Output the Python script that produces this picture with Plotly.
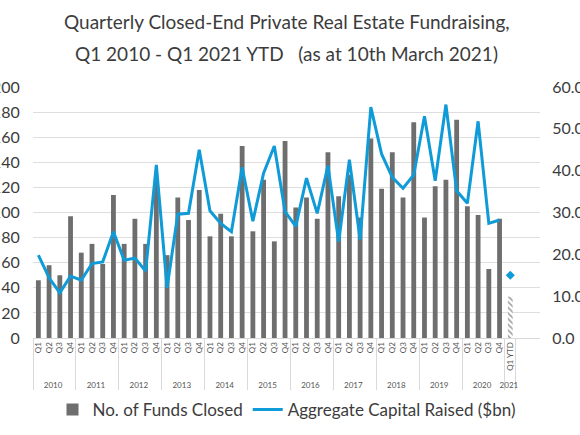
import plotly.graph_objects as go

# Quarterly fundraising data, Q1 2010 - Q4 2020, plus Q1 2021 YTD
years = [str(y) for y in range(2010, 2021)]
quarters = ["Q1", "Q2", "Q3", "Q4"]

funds_closed = [
    46, 58, 50, 97,
    68, 75, 59, 114,
    75, 95, 75, 125,
    66, 112, 94, 118,
    81, 99, 81, 153,
    85, 126, 77, 157,
    104, 112, 95, 148,
    113, 130, 96, 159,
    119, 148, 112, 172,
    96, 121, 126, 174,
    105, 98, 55, 95,
]
capital_raised = [
    19.8, 14.4, 10.8, 14.8,
    13.8, 17.8, 18.2, 25.4,
    18.6, 19.1, 16.0, 41.4,
    12.0, 29.6, 29.8, 45.0,
    30.4, 27.4, 25.4, 40.8,
    27.9, 39.4, 45.9, 30.2,
    26.7, 38.2, 29.8, 41.2,
    23.0, 42.6, 23.5, 55.2,
    44.0, 38.4, 35.8, 39.0,
    53.0, 37.6, 55.8, 35.2,
    32.2, 51.8, 27.4, 28.2,
]
ytd_year = "2021"
ytd_label = "Q1 YTD"
ytd_funds = 33
ytd_capital = 15.0

title_lines = [
    "Quarterly Closed-End Private Real Estate Fundraising,",
    "Q1 2010 - Q1 2021 YTD   (as at 10th March 2021)",
]

GREY = "#6e6e6e"
BLUE = "#0f9bd7"
TEXT = "#3c3c3c"

x_years = [y for y in years for _ in quarters] + [ytd_year]
x_quarters = quarters * len(years) + [ytd_label]
x = [x_years, x_quarters]

n = len(funds_closed)
bar_y = funds_closed + [ytd_funds]
bar_colors = [GREY] * n + ["white"]   # YTD bar is hatched only
patterns = [""] * n + ["\\"]

fig = go.Figure()
fig.add_trace(go.Bar(
    x=x, y=bar_y, name="No. of Funds Closed",
    marker=dict(color=bar_colors, line=dict(width=0),
                pattern=dict(shape=patterns, fillmode="overlay", fgcolor=GREY,
                             size=4, solidity=0.4)),
    yaxis="y",
))
fig.add_trace(go.Scatter(
    x=x, y=capital_raised + [None], name="Aggregate Capital Raised ($bn)",
    mode="lines", line=dict(color=BLUE, width=3), yaxis="y2",
))
fig.add_trace(go.Scatter(
    x=[[ytd_year], [ytd_label]], y=[ytd_capital], mode="markers",
    marker=dict(color=BLUE, symbol="diamond", size=7), yaxis="y2", showlegend=False,
))

# two title lines, spaced like the original
for text, ypos in zip(title_lines, [1.259, 1.135]):
    fig.add_annotation(
        text=text, xref="paper", yref="paper", x=0.5, y=ypos,
        xanchor="center", yanchor="middle", showarrow=False,
        font=dict(size=19, color=TEXT),
    )

fig.update_layout(
    width=580, height=435,
    margin=dict(l=33, r=40, t=87, b=97, autoexpand=False),
    paper_bgcolor="white", plot_bgcolor="white",
    font=dict(family="Lato", color=TEXT),
    bargap=0.55,
    showlegend=True,
    legend=dict(orientation="h", x=0.5, xanchor="center", y=-0.287, yanchor="middle",
                font=dict(size=17, color=TEXT), itemwidth=30),
    xaxis=dict(
        type="multicategory", tickangle=-90, tickfont=dict(size=8, color="#555"),
        showdividers=True, dividercolor="#d9d9d9", dividerwidth=1,
        showline=True, linecolor="#d9d9d9", showgrid=False,
    ),
    yaxis=dict(
        range=[0, 200], dtick=20, showgrid=True, gridcolor="#dedede",
        tickfont=dict(size=16, color=TEXT), zeroline=False,
        ticks="outside", ticklen=9, tickcolor="rgba(0,0,0,0)",
    ),
    yaxis2=dict(
        range=[0, 60], dtick=10, tickformat=".1f", overlaying="y", side="right",
        showgrid=False, zeroline=False, tickfont=dict(size=16, color=TEXT),
        ticks="outside", ticklen=8, tickcolor="rgba(0,0,0,0)",
    ),
)

fig.write_html("out.html", config={"displayModeBar": False},
               post_script="document.body.style.margin = '0';")
